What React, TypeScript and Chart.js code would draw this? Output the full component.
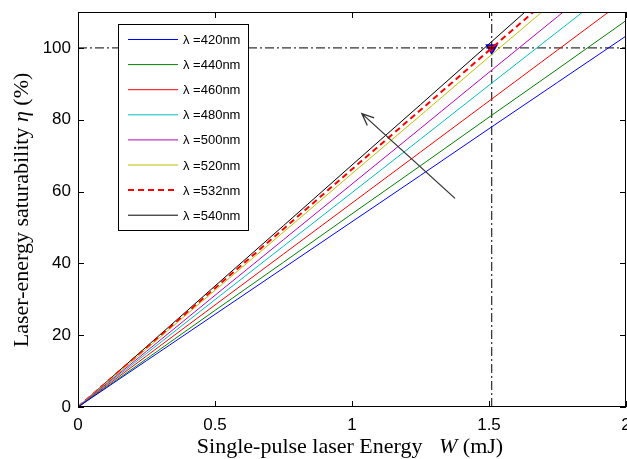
import React, { useEffect, useRef } from "react";
import { Chart, registerables } from "chart.js";

Chart.register(...registerables);

const energy = [0, 0.25, 0.5, 0.75, 1, 1.25, 1.5, 1.75, 2];
const eta420 = [0, 12.9, 25.8, 38.7, 51.6, 64.5, 77.5, 90.4, 103.3];
const eta440 = [0, 13.4, 26.9, 40.3, 53.8, 67.2, 80.7, 94.1, 107.6];
const eta460 = [0, 14.2, 28.4, 42.6, 56.8, 71.0, 85.2, 99.4, 113.6];
const eta480 = [0, 14.9, 29.9, 44.8, 59.7, 74.6, 89.6, 104.5, 119.4];
const eta500 = [0, 15.5, 31.1, 46.6, 62.1, 77.6, 93.2, 108.7, 124.2];
const eta520 = [0, 16.2, 32.5, 48.7, 65.0, 81.2, 97.5, 113.7, 130.0];
const eta532 = [0, 16.5, 33.1, 49.6, 66.2, 82.7, 99.3, 115.8, 132.4];
const eta540 = [0, 16.8, 33.7, 50.5, 67.4, 84.2, 101.1, 118.0, 134.8];

const seriesLabels = ["λ =420nm", "λ =440nm", "λ =460nm", "λ =480nm", "λ =500nm", "λ =520nm", "λ =532nm", "λ =540nm"];
const seriesValues = [eta420, eta440, eta460, eta480, eta500, eta520, eta532, eta540];
const seriesColors = ["#0000ff", "#008000", "#ff0000", "#00bfbf", "#bf00bf", "#bfbf00", "#ff0000", "#000000"];

const xTicks = [0, 0.5, 1, 1.5, 2];
const yTicks = [0, 20, 40, 60, 80, 100];
const markerPoint = { x: 1.51, y: 100 };
const arrowFrom = { x: 1.376, y: 58.1 };
const arrowTo = { x: 1.036, y: 81.7 };

const overlay = {
  id: "overlay",
  afterDatasetsDraw(chart: any) {
    const { ctx, chartArea, scales } = chart;
    const { left, right, top, bottom } = chartArea;
    const xs = scales.x;
    const ys = scales.y;
    ctx.save();
    // arrow
    const ax0 = xs.getPixelForValue(arrowFrom.x);
    const ay0 = ys.getPixelForValue(arrowFrom.y);
    const ax1 = xs.getPixelForValue(arrowTo.x);
    const ay1 = ys.getPixelForValue(arrowTo.y);
    ctx.strokeStyle = "#333333";
    ctx.lineWidth = 1.3;
    ctx.beginPath();
    ctx.moveTo(ax0, ay0);
    ctx.lineTo(ax1, ay1);
    const ang = Math.atan2(ay1 - ay0, ax1 - ax0);
    const hl = 13;
    ctx.moveTo(ax1 - hl * Math.cos(ang - 0.4), ay1 - hl * Math.sin(ang - 0.4));
    ctx.lineTo(ax1, ay1);
    ctx.lineTo(ax1 - hl * Math.cos(ang + 0.4), ay1 - hl * Math.sin(ang + 0.4));
    ctx.stroke();

    // frame
    ctx.strokeStyle = "#000";
    ctx.lineWidth = 1;
    ctx.strokeRect(left + 0.5, top + 0.5, right - left - 1, bottom - top - 1);
    // ticks inward
    ctx.beginPath();
    xTicks.forEach((v) => {
      const px = Math.round(xs.getPixelForValue(v)) + 0.5;
      ctx.moveTo(px, bottom);
      ctx.lineTo(px, bottom - 6);
      ctx.moveTo(px, top);
      ctx.lineTo(px, top + 6);
    });
    yTicks.forEach((v) => {
      const py = Math.round(ys.getPixelForValue(v)) + 0.5;
      ctx.moveTo(left, py);
      ctx.lineTo(left + 6, py);
      ctx.moveTo(right, py);
      ctx.lineTo(right - 6, py);
    });
    ctx.stroke();

    // legend
    const lx = 118.5, ly = 24.5, lw = 130, lh = 206;
    ctx.fillStyle = "#fff";
    ctx.fillRect(lx, ly, lw, lh);
    ctx.strokeStyle = "#000";
    ctx.lineWidth = 1;
    ctx.strokeRect(lx, ly, lw, lh);
    ctx.font = "13px 'Liberation Sans', Arial, sans-serif";
    ctx.textBaseline = "middle";
    ctx.textAlign = "left";
    seriesLabels.forEach((lab, i) => {
      const yy = 39.5 + i * 25.1;
      ctx.beginPath();
      ctx.strokeStyle = seriesColors[i];
      if (i === 6) {
        ctx.lineWidth = 2;
        ctx.setLineDash([6, 4]);
      } else {
        ctx.lineWidth = 1;
        ctx.setLineDash([]);
      }
      ctx.moveTo(128, yy);
      ctx.lineTo(178, yy);
      ctx.stroke();
      ctx.setLineDash([]);
      ctx.fillStyle = "#000";
      ctx.fillText(lab, 183, yy + 1);
    });
    ctx.restore();
  },
  afterDraw(chart: any) {
    const { ctx } = chart;
    ctx.save();
    ctx.fillStyle = "#000";
    ctx.textAlign = "left";
    ctx.textBaseline = "alphabetic";
    const fontFor = (st: string) => `${st} 22px 'Liberation Serif', 'Times New Roman', serif`;
    // x title
    const parts: [string, string][] = [
      ["Single-pulse laser Energy   ", "normal"],
      ["W", "italic"],
      [" (mJ)", "normal"],
    ];
    let total = 0;
    parts.forEach(([t, st]) => {
      ctx.font = fontFor(st);
      total += ctx.measureText(t).width;
    });
    let cx = 350 - total / 2;
    parts.forEach(([t, st]) => {
      ctx.font = fontFor(st);
      ctx.fillText(t, cx, 453);
      cx += ctx.measureText(t).width;
    });
    // y title
    const yparts: [string, string][] = [
      ["Laser-energy saturability ", "normal"],
      ["η", "italic"],
      [" (%)", "normal"],
    ];
    let ytotal = 0;
    yparts.forEach(([t, st]) => {
      ctx.font = fontFor(st);
      ytotal += ctx.measureText(t).width;
    });
    ctx.translate(27.5, 210);
    ctx.rotate(-Math.PI / 2);
    let cy = -ytotal / 2;
    yparts.forEach(([t, st]) => {
      ctx.font = fontFor(st);
      ctx.fillText(t, cy, 0);
      cy += ctx.measureText(t).width;
    });
    ctx.restore();
  },
};

export default function App() {
  const ref = useRef<HTMLCanvasElement | null>(null);
  useEffect(() => {
    if (!ref.current) return;
    const datasets: any[] = seriesValues.map((vals, i) => ({
      label: seriesLabels[i],
      data: energy.map((e, j) => ({ x: e, y: vals[j] })),
      borderColor: seriesColors[i],
      backgroundColor: seriesColors[i],
      borderWidth: i === 6 ? 2 : 1,
      borderDash: i === 6 ? [6, 4] : [],
      pointRadius: 0,
      fill: false,
      tension: 0,
    }));
    datasets.push({
      label: "h",
      data: [{ x: 0, y: markerPoint.y }, { x: 2, y: markerPoint.y }],
      borderColor: "#000",
      borderWidth: 1,
      borderDash: [9, 3, 2, 3],
      pointRadius: 0,
    });
    datasets.push({
      label: "v",
      data: [{ x: markerPoint.x, y: 0 }, { x: markerPoint.x, y: 110 }],
      borderColor: "#000",
      borderWidth: 1,
      borderDash: [9, 3, 2, 3],
      pointRadius: 0,
    });
    datasets.push({
      label: "m",
      data: [markerPoint],
      showLine: false,
      pointStyle: "triangle",
      rotation: 180,
      pointRadius: 6,
      pointBackgroundColor: "#ff0000",
      pointBorderColor: "#0000ff",
      pointBorderWidth: 1.5,
      clip: false,
    });
    const tickFont = { family: "'Liberation Sans', Arial, sans-serif", size: 17 };
    const chart = new Chart(ref.current, {
      type: "line",
      data: { datasets },
      options: {
        animation: false,
        responsive: false,
        layout: { autoPadding: false, padding: { top: 12, right: 1, left: 0, bottom: 0 } },
        plugins: { legend: { display: false }, tooltip: { enabled: false } },
        scales: {
          x: {
            type: "linear",
            min: 0,
            max: 2,
            grid: { display: false, drawTicks: false },
            border: { display: false },
            afterBuildTicks: (s: any) => {
              s.ticks = xTicks.map((v) => ({ value: v }));
            },
            afterFit: (s: any) => {
              s.height = 52;
              s.paddingLeft = 0;
              s.paddingRight = 0;
            },
            ticks: { font: tickFont, color: "#000", padding: 8, maxRotation: 0, callback: (v: any) => String(v) },
          },
          y: {
            type: "linear",
            min: 0,
            max: 110,
            grid: { display: false, drawTicks: false },
            border: { display: false },
            afterBuildTicks: (s: any) => {
              s.ticks = yTicks.map((v) => ({ value: v }));
            },
            afterFit: (s: any) => {
              s.width = 78;
              s.paddingTop = 0;
              s.paddingBottom = 0;
            },
            ticks: { font: tickFont, color: "#000", padding: 7, callback: (v: any) => String(v) },
          },
        },
      },
      plugins: [overlay],
    });
    return () => chart.destroy();
  }, []);
  return (
    <div style={{ position: "fixed", left: 0, top: 0, width: 627, height: 459, background: "#fff" }}>
      <canvas ref={ref} width={627} height={459} />
    </div>
  );
}
